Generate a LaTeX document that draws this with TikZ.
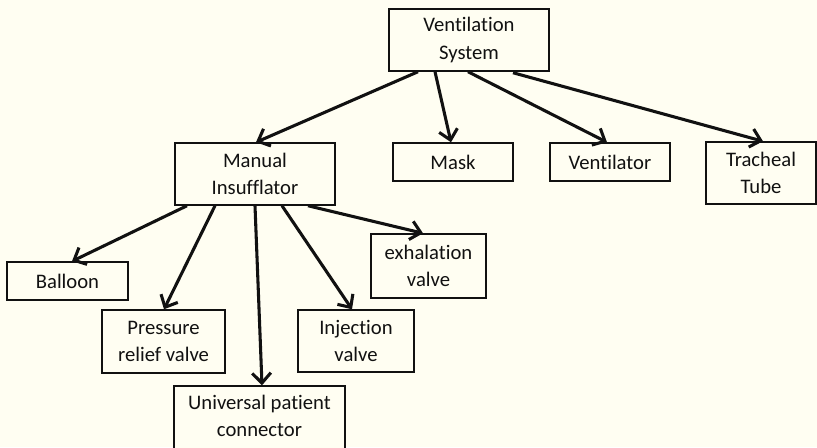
\documentclass[tikz,border=0pt]{standalone}
\usepackage{fontspec}
\setmainfont{Carlito}[Ligatures=NoCommon]
\usetikzlibrary{arrows.meta,calc}
\definecolor{bg}{HTML}{FFFEF2}
\definecolor{ink}{HTML}{111111}
\tikzset{
  box/.style={draw=ink, line width=1.1pt, fill=bg, inner sep=0pt, align=center,
    text=ink, font=\fontsize{15.5}{20.5}\selectfont},
  conn/.style={draw=ink, line width=2.3pt, -{Straight Barb[length=7.5pt,width=14pt,line width=2.3pt]}},
}
\begin{document}
\begin{tikzpicture}[x=0.75pt,y=-0.75pt]
\fill[bg] (0,0) rectangle (817,447);
\useasboundingbox (0,0) rectangle (817,447);
\begin{scope}
\clip (0,0) rectangle (817,447);
\node[box, minimum width={160*0.75pt}, minimum height={62*0.75pt}] (vs) at (469,40) {Ventilation\\System};
\node[box, minimum width={160*0.75pt}, minimum height={62*0.75pt}] (mi) at (255,174) {Manual\\Insufflator};
\node[box, minimum width={120*0.75pt}, minimum height={38*0.75pt}] (mask) at (453,162) {Mask};
\node[box, minimum width={120*0.75pt}, minimum height={38*0.75pt}] (vent) at (610,162) {Ventilator};
\node[box, minimum width={110*0.75pt}, minimum height={62*0.75pt}] (tt) at (761,173) {Tracheal\\Tube};
\node[box, minimum width={121*0.75pt}, minimum height={38*0.75pt}] (balloon) at (67.5,281) {Balloon};
\node[box, minimum width={123*0.75pt}, minimum height={63*0.75pt}] (prv) at (163.5,341.5) {Pressure\\relief valve};
\node[box, minimum width={116*0.75pt}, minimum height={62*0.75pt}] (inj) at (356,341) {Injection\\valve};
\node[box, minimum width={115*0.75pt}, minimum height={64*0.75pt}] (exh) at (428.5,266) {exhalation\\valve};
\node[box, minimum width={171*0.75pt}, minimum height={66*0.75pt}] (upc) at (259.5,419) {};
\node[align=center, text=ink, font=\fontsize{15.5}{20.5}\selectfont, inner sep=0pt] (upct) at (259.5,416) {Universal patient\\connector};

\draw[conn] ($(vs.south)+(-51,0)$) -- ($(mi.north)+(1,0)$);
\draw[conn] ($(vs.south)+(-34,0)$) -- ($(mask.north)+(-2,0)$);
\draw[conn] ($(vs.south)+(-1,0)$) -- ($(vent.north)+(-3,0)$);
\draw[conn] ($(vs.south)+(44,1)$) -- ($(tt.north)+(2,0)$);

\draw[conn] ($(mi.south)+(-68,0)$) -- ($(balloon.north)+(4.5,0)$);
\draw[conn] ($(mi.south)+(-40,0)$) -- ($(prv.north)+(0.5,0)$);
\draw[conn] ($(mi.south)+(0,0)$) -- ($(upc.north)+(2.5,0)$);
\draw[conn] ($(mi.south)+(27,0)$) -- ($(inj.north)+(-4,0)$);
\draw[conn] ($(mi.south)+(53,0)$) -- ($(exh.north)+(-5.5,0)$);
\end{scope}
\end{tikzpicture}
\end{document}
